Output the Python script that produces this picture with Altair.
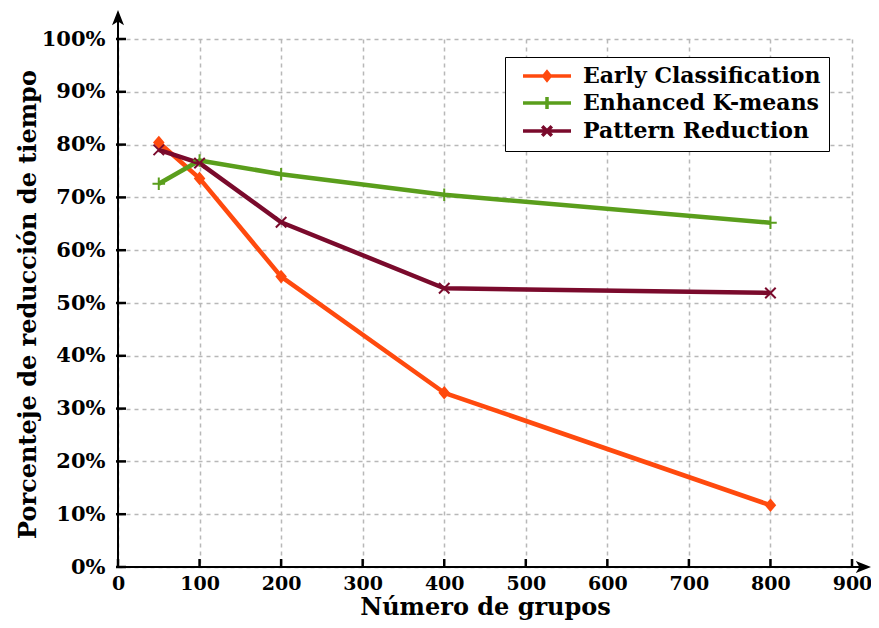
import altair as alt
import pandas as pd

# ---- data ----
groups = [50, 100, 200, 400, 800]
early = [80.4, 73.6, 55.0, 33.0, 11.7]
enhanced = [72.6, 77.0, 74.4, 70.5, 65.2]
pattern = [79.0, 76.5, 65.3, 52.8, 51.9]
series_names = ["Early Classification", "Enhanced K-means", "Pattern Reduction"]
x_ticks = [0, 100, 200, 300, 400, 500, 600, 700, 800, 900]
y_ticks = [0, 10, 20, 30, 40, 50, 60, 70, 80, 90, 100]

colors = ["#FF4A0E", "#5A9E1C", "#7A0A2C"]
marker_paths = [
    "M0,-1L0.85,0L0,1L-0.85,0Z",
    "M-1.2,0L1.2,0M0,-1.2L0,1.2",
    "M-1,-1L1,1M-1,1L1,-1",
]
legend_paths = [
    "M-3,0L3,0M0,-0.5L0.4,0L0,0.5L-0.4,0Z",
    "M-3,0L3,0M0,-0.75L0,0.75",
    "M-3,0L3,0M-0.6,-0.6L0.6,0.6M-0.6,0.6L0.6,-0.6",
]

rows = []
for name, vals in zip(series_names, [early, enhanced, pattern]):
    for g, v in zip(groups, vals):
        rows.append({"series": name, "groups": g, "pct": v})
df = pd.DataFrame(rows)

W, H = 734, 528
FONT = "DejaVu Serif"

xscale = alt.Scale(domain=[0, 900], nice=False)
yscale = alt.Scale(domain=[0, 100], nice=False)
cscale = alt.Scale(domain=series_names, range=colors)

xaxis = alt.Axis(
    values=x_ticks, title="Número de grupos", grid=True, gridColor="#b8b8b8",
    gridDash=[4, 4], gridWidth=1.5, domain=False, ticks=False,
    labelFont=FONT, labelFontWeight="bold", labelFontSize=19,
    labelColor="black", labelPadding=7, labelFlush=False,
    titleFont=FONT, titleFontWeight="bold", titleFontSize=24, titleColor="black",
    titleX=W / 2, titleY=47, titleBaseline="alphabetic",
)
yaxis = alt.Axis(
    values=y_ticks, title="Porcenteje de reducción de tiempo", grid=True,
    gridColor="#b8b8b8", gridDash=[4, 4], gridWidth=1.5, domain=False, ticks=False,
    labelExpr="datum.value + '%'", labelFont=FONT, labelFontWeight="bold",
    labelFontSize=21, labelColor="black", labelPadding=13, labelFlush=False,
    titleFont=FONT, titleFontWeight="bold", titleFontSize=24, titleColor="black",
    titleX=-83, titleY=H / 2 + 1, titleAngle=270, titleBaseline="alphabetic",
    titleAlign="center",
)

leg = alt.Legend(
    title=None, orient="none", legendX=387, legendY=18, fillColor="white",
    strokeColor="black", padding=8, symbolSize=256, symbolStrokeWidth=3.5,
    symbolOffset=23, labelOffset=25, labelFont=FONT, labelFontWeight="bold",
    labelFontSize=22, labelColor="black", rowPadding=3, labelLimit=400,
    cornerRadius=0, symbolOpacity=1,
)

base = alt.Chart(df)

lines = base.mark_line(strokeWidth=4.5, strokeJoin="round").encode(
    x=alt.X("groups:Q", scale=xscale, axis=xaxis),
    y=alt.Y("pct:Q", scale=yscale, axis=yaxis),
    color=alt.Color("series:N", scale=cscale, legend=leg),
)

marker_layers = []
for name, path in zip(series_names, marker_paths):
    marker_layers.append(
        base.transform_filter(alt.datum.series == name)
        .mark_point(shape=path, filled=True, size=110, strokeWidth=2, opacity=1)
        .encode(
            x=alt.X("groups:Q", scale=xscale),
            y=alt.Y("pct:Q", scale=yscale),
            fill=alt.Fill("series:N", scale=cscale, legend=None),
            stroke=alt.Stroke("series:N", scale=cscale, legend=None),
        )
    )

legend_layer = base.mark_point(filled=False, strokeWidth=3.5, opacity=1).encode(
    x=alt.X("groups:Q", scale=xscale),
    y=alt.Y("pct:Q", scale=yscale),
    color=alt.Color("series:N", scale=cscale, legend=leg),
    shape=alt.Shape("series:N", scale=alt.Scale(domain=series_names, range=legend_paths), legend=leg),
).transform_filter("false")

one = alt.Data(values=[{"a": 1}])
yline = alt.Chart(one).mark_rule(strokeWidth=2, color="black").encode(
    x=alt.value(0), y=alt.value(H), y2=alt.value(-21))
xline = alt.Chart(one).mark_rule(strokeWidth=2, color="black").encode(
    x=alt.value(0), x2=alt.value(745), y=alt.value(H))
yarrow = alt.Chart(one).mark_point(
    shape="M0,-1L0.75,0.9L0,0.45L-0.75,0.9Z", size=256, filled=True,
    color="black", opacity=1).encode(x=alt.value(0), y=alt.value(-21))
xarrow = alt.Chart(one).mark_point(
    shape="M1,0L-0.9,0.75L-0.45,0L-0.9,-0.75Z", size=256, filled=True,
    color="black", opacity=1).encode(x=alt.value(745), y=alt.value(H))

ytick_df = pd.DataFrame({"pct": y_ticks})
xtick_df = pd.DataFrame({"groups": x_ticks})
yticks = alt.Chart(ytick_df).mark_rule(strokeWidth=2.5, color="black").encode(
    y=alt.Y("pct:Q", scale=yscale), x=alt.value(-2), x2=alt.value(8))
xticks = alt.Chart(xtick_df).mark_rule(strokeWidth=2.5, color="black").encode(
    x=alt.X("groups:Q", scale=xscale), y=alt.value(H), y2=alt.value(H - 8))

chart = alt.layer(
    lines, *marker_layers, legend_layer, yticks, xticks, yline, xline, yarrow, xarrow
).properties(
    width=W, height=H,
    autosize=alt.AutoSizeParams(type="none"),
    padding={"left": 110, "top": 31, "right": 19, "bottom": 53},
    background="white",
).configure_view(stroke=None)

chart.save("out.html", embed_options={"renderer": "svg", "actions": False})
